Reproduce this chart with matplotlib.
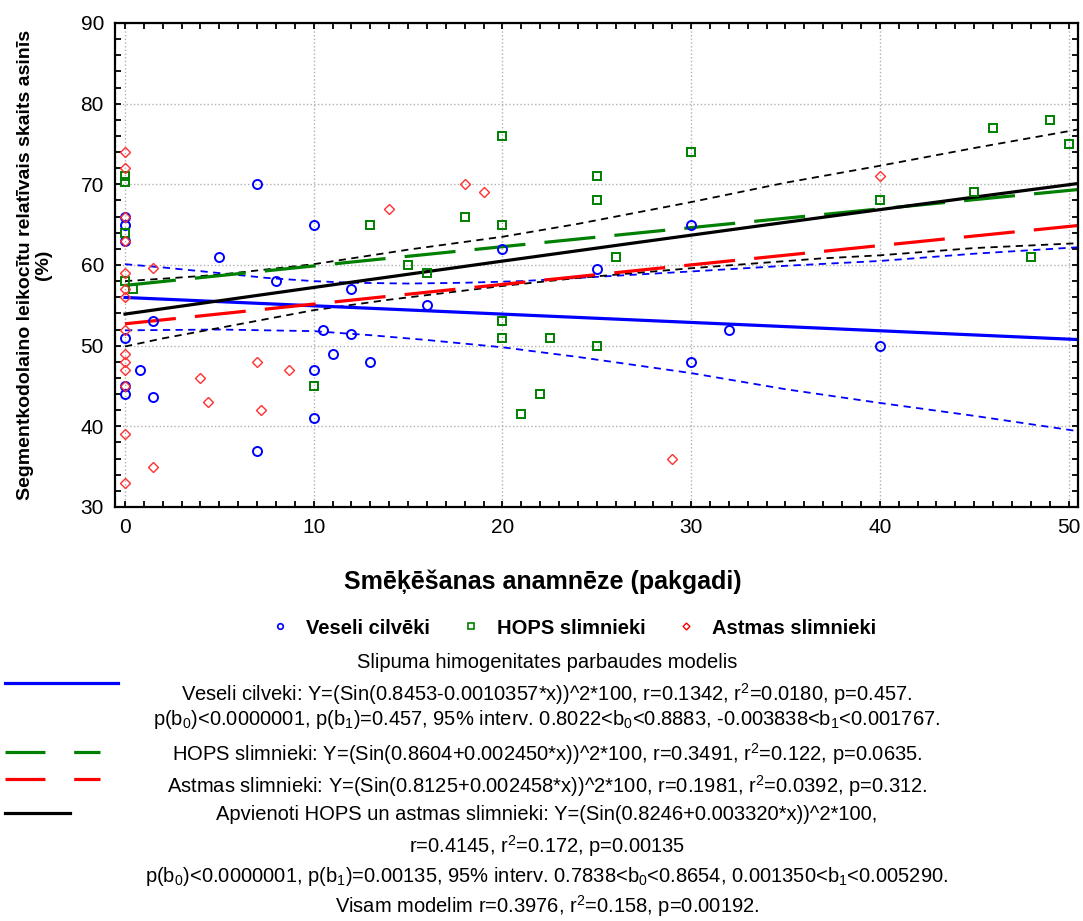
import numpy as np
import matplotlib
matplotlib.use("Agg")
import matplotlib.pyplot as plt
from matplotlib.lines import Line2D

plt.rcParams['font.family'] = ['Liberation Sans', 'DejaVu Sans']
plt.rcParams['mathtext.default'] = 'regular'

## Scatter data (smoking history in pack-years vs segmented neutrophils %)
veseli_x = [0, 0, 0, 0, 0, 0, 0.8, 1.5, 1.5, 5, 7, 7, 8, 10, 10, 10, 10.5, 11, 12, 12, 13,
            16, 20, 25, 30, 30, 32, 40]
veseli_y = [66, 65, 63, 51, 45, 44, 47, 53, 43.6, 61, 70, 37, 58, 65, 47, 41, 52, 49, 57, 51.5, 48,
            55, 62, 59.5, 65, 48, 52, 50]

hops_x = [0, 0, 0, 0, 0.4, 10, 13, 15, 16, 18, 20, 20, 20, 20, 21, 22, 22.5, 25, 25, 25, 26,
          30, 40, 45, 46, 48, 49, 50]
hops_y = [71, 70.3, 64, 58, 57, 45, 65, 60, 59, 66, 76, 65, 53, 51, 41.5, 44, 51, 71, 68, 50, 61,
          74, 68, 69, 77, 61, 78, 75]

astma_x = [0, 0, 0, 0, 0, 0, 0, 0, 0, 0, 0, 0, 0, 0, 1.5, 1.5, 4, 4.4, 7, 7.2, 8.7,
           14, 18, 19, 29, 40]
astma_y = [74, 72, 66, 63, 59, 57, 56, 52, 49, 48, 47, 45, 39, 33, 59.6, 35, 46, 43, 48, 42, 47,
           67, 70, 69, 36, 71]

## Model coefficients Y = (sin(b0 + b1*x))^2 * 100 (as printed on the chart)
b_veseli = (0.8453, -0.0010357)
b_hops = (0.8604, 0.002450)
b_astma = (0.8125, 0.002458)
b_kopa = (0.8246, 0.003320)

## 95% bands
ci_veseli_up_x = [0, 2, 5, 7.5, 10, 12, 15, 18, 21, 24, 27, 30, 35, 40, 45, 50.5]
ci_veseli_up_y = [60.1, 59.7, 59.0, 58.4, 58.0, 57.8, 57.7, 57.8, 58.0, 58.4, 58.8, 59.2, 59.9, 60.5, 61.4, 62.2]
ci_veseli_lo_x = [0, 5, 10, 13, 16, 20, 24, 30, 35, 40, 45, 50.5]
ci_veseli_lo_y = [51.9, 52.0, 51.8, 51.3, 50.7, 49.8, 48.6, 46.6, 44.6, 42.9, 41.3, 39.4]
ci_kopa_up_x = [0, 2, 5, 10, 15, 20, 24, 30, 35, 40, 45, 50.5]
ci_kopa_up_y = [58.0, 58.3, 58.8, 60.1, 61.9, 63.5, 65.1, 67.8, 70.2, 72.3, 74.5, 76.8]
ci_kopa_lo_x = [0, 2, 5, 10, 14, 20, 24, 30, 36.8, 40, 45, 50.5]
ci_kopa_lo_y = [49.9, 50.9, 52.2, 54.4, 55.7, 57.4, 58.4, 59.6, 60.8, 61.2, 62.1, 62.7]


def model(b, x):
    return np.sin(b[0] + b[1] * x) ** 2 * 100


W, H = 1083, 921
fig = plt.figure(figsize=(W / 100, H / 100), dpi=100)
ax = fig.add_axes([115 / W, 1 - 507 / H, (1078 - 115) / W, (507 - 23) / H])

xs = np.linspace(0, 50.5, 300)
long_dash = (0, (16, 6))

ax.plot(ci_veseli_up_x, ci_veseli_up_y, color='blue', lw=1.3, ls=(0, (4, 3)))
ax.plot(ci_veseli_lo_x, ci_veseli_lo_y, color='blue', lw=1.3, ls=(0, (4, 3)))
ax.plot(ci_kopa_up_x, ci_kopa_up_y, color='black', lw=1.3, ls=(0, (4, 3)))
ax.plot(ci_kopa_lo_x, ci_kopa_lo_y, color='black', lw=1.3, ls=(0, (4, 3)))

ax.plot(xs, model(b_veseli, xs), color='blue', lw=2.3)
ax.plot(xs, model(b_hops, xs), color='green', lw=2.3, ls=long_dash)
ax.plot(xs, model(b_astma, xs), color='red', lw=2.3, ls=long_dash)
ax.plot(xs, model(b_kopa, xs), color='black', lw=2.3)

ax.plot(veseli_x, veseli_y, ls='', marker='o', ms=6.5, mfc='none', mec='blue', mew=1.4)
ax.plot(hops_x, hops_y, ls='', marker='s', ms=6, mfc='none', mec='green', mew=1.4)
ax.plot(astma_x, astma_y, ls='', marker='D', ms=5, mfc='none', mec='#ff3030', mew=1.0)

ax.set_xlim(-0.53, 50.5)
ax.set_ylim(30, 90)
ax.set_xticks(np.arange(0, 51, 10))
ax.set_xticks(np.arange(0, 51, 1), minor=True)
ax.set_yticks(np.arange(30, 91, 10))
ax.set_yticks(np.arange(30, 91, 2), minor=True)
ax.tick_params(which='both', direction='in', top=True, right=True, length=4.5, width=1.3, labelsize=15)
ax.tick_params(axis='x', pad=8)
ax.tick_params(axis='y', pad=8)
ax.grid(which='major', ls=':', color='#b0b0b0', lw=1)
for s in ax.spines.values():
    s.set_linewidth(1.6)

ax.set_xlabel("Smēķēšanas anamnēze (pakgadi)", fontsize=18, fontweight='bold')
ax.xaxis.set_label_coords((543 - 115) / (1078 - 115), -(570 - 507) / (507 - 23), transform=ax.transAxes)
ax.set_ylabel("Segmentkodolaino leikocītu relatīvais skaits asinīs\n(%)", fontsize=14,
              fontweight='bold', linespacing=1.1)
ax.yaxis.set_label_coords(-(115 - 52) / (1078 - 115), 0.5, transform=ax.transAxes)

# top legend row
handles = [
    Line2D([], [], ls='', marker='o', ms=4, mfc='none', mec='blue', mew=1.2),
    Line2D([], [], ls='', marker='s', ms=4, mfc='none', mec='green', mew=1.2),
    Line2D([], [], ls='', marker='D', ms=3.5, mfc='none', mec='red', mew=1.0),
]
fig.legend(handles, ["Veseli cilvēki", "HOPS slimnieki", "Astmas slimnieki"], ncol=3,
           loc='center', bbox_to_anchor=(568 / W, 1 - 628 / H), frameon=False,
           prop={'weight': 'bold', 'size': 14.5}, handletextpad=0.3, columnspacing=1.0)

# model description text
cx = 547 / W
lines_txt = [
    (663, "Slipuma himogenitates parbaudes modelis"),
    (694, "Veseli cilveki: Y=(Sin(0.8453-0.0010357*x))^2*100, r=0.1342, r$^2$=0.0180, p=0.457."),
    (719, "p(b$_0$)<0.0000001, p(b$_1$)=0.457, 95% interv. 0.8022<b$_0$<0.8883, -0.003838<b$_1$<0.001767."),
    (754, "HOPS slimnieki: Y=(Sin(0.8604+0.002450*x))^2*100, r=0.3491, r$^2$=0.122, p=0.0635."),
    (786, "Astmas slimnieki: Y=(Sin(0.8125+0.002458*x))^2*100, r=0.1981, r$^2$=0.0392, p=0.312."),
    (814, "Apvienoti HOPS un astmas slimnieki: Y=(Sin(0.8246+0.003320*x))^2*100,"),
    (846, "r=0.4145, r$^2$=0.172, p=0.00135"),
    (876, "p(b$_0$)<0.0000001, p(b$_1$)=0.00135, 95% interv. 0.7838<b$_0$<0.8654, 0.001350<b$_1$<0.005290."),
    (906, "Visam modelim r=0.3976, r$^2$=0.158, p=0.00192."),
]
for ypix, t in lines_txt:
    fig.text(cx, 1 - ypix / H, t, ha='center', va='center', fontsize=14.5)

# legend line samples at the left
def key_line(x0, x1, ypix, **kw):
    fig.add_artist(Line2D([x0 / W, x1 / W], [1 - ypix / H, 1 - ypix / H], transform=fig.transFigure, **kw))

key_line(5, 118, 683, color='blue', lw=2.3)
key_line(5, 100, 752, color='green', lw=2.3, ls=(0, (12.5, 9)))
key_line(5, 100, 779, color='red', lw=2.3, ls=(0, (12.5, 9)))
key_line(5, 70, 813, color='black', lw=2.3)

fig.savefig("out.png", dpi=100)
